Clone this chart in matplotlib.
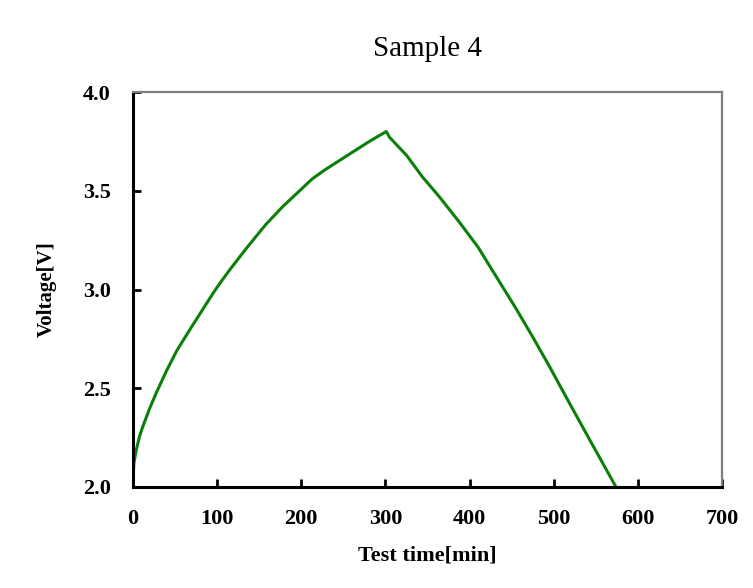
import matplotlib
matplotlib.use("Agg")
import matplotlib.pyplot as plt

# values (charge then discharge)
TIME_MIN = [0, 1, 4, 8, 12, 20, 28, 40, 52, 68, 83, 95, 103, 115, 135, 158,
            178, 198, 213, 226, 257, 281, 301, 305, 325, 344, 364, 388, 410,
            431, 455, 475, 495, 518, 542, 574]
VOLTAGE = [2.03, 2.12, 2.19, 2.26, 2.31, 2.40, 2.48, 2.59, 2.69, 2.80, 2.90,
           2.98, 3.03, 3.10, 3.21, 3.33, 3.42, 3.50, 3.56, 3.60, 3.685, 3.75,
           3.80, 3.77, 3.68, 3.57, 3.47, 3.34, 3.215, 3.07, 2.905, 2.76, 2.61,
           2.43, 2.245, 2.00]
X_TICKS = [0, 100, 200, 300, 400, 500, 600, 700]
Y_TICKS = [2.0, 2.5, 3.0, 3.5, 4.0]

plt.rcParams["font.family"] = ["Liberation Serif", "DejaVu Serif"]

fig = plt.figure(figsize=(7.53, 5.88), dpi=100)
ax = fig.add_axes([133 / 753, 1 - 487 / 588, (722 - 133) / 753, (487 - 92) / 588])

ax.plot(TIME_MIN, VOLTAGE, color="#0a800a", linewidth=2.2)

ax.set_xlim(0, 700)
ax.set_ylim(2.0, 4.0)
ax.set_xticks(X_TICKS)
ax.set_yticks(Y_TICKS)
ax.set_yticklabels([f"{v:.1f}" for v in Y_TICKS])

for side in ("left", "bottom"):
    ax.spines[side].set_color("black")
    ax.spines[side].set_linewidth(2.2)
for side in ("top", "right"):
    ax.spines[side].set_color("#808080")
    ax.spines[side].set_linewidth(1.6)

ax.tick_params(axis="x", direction="in", length=6, width=2, pad=16,
               labelsize=16)
ax.tick_params(axis="y", direction="in", length=6, width=2, pad=16,
               labelsize=16)
for lab in ax.get_xticklabels() + ax.get_yticklabels():
    lab.set_fontweight("bold")

ax.set_title("Sample 4", fontsize=21, pad=26)
ax.set_xlabel("Test time[min]", fontsize=16, fontweight="bold", labelpad=12)
ax.set_ylabel("Voltage[V]", fontsize=15, fontweight="bold", labelpad=19)

fig.savefig("out.png", dpi=100)
